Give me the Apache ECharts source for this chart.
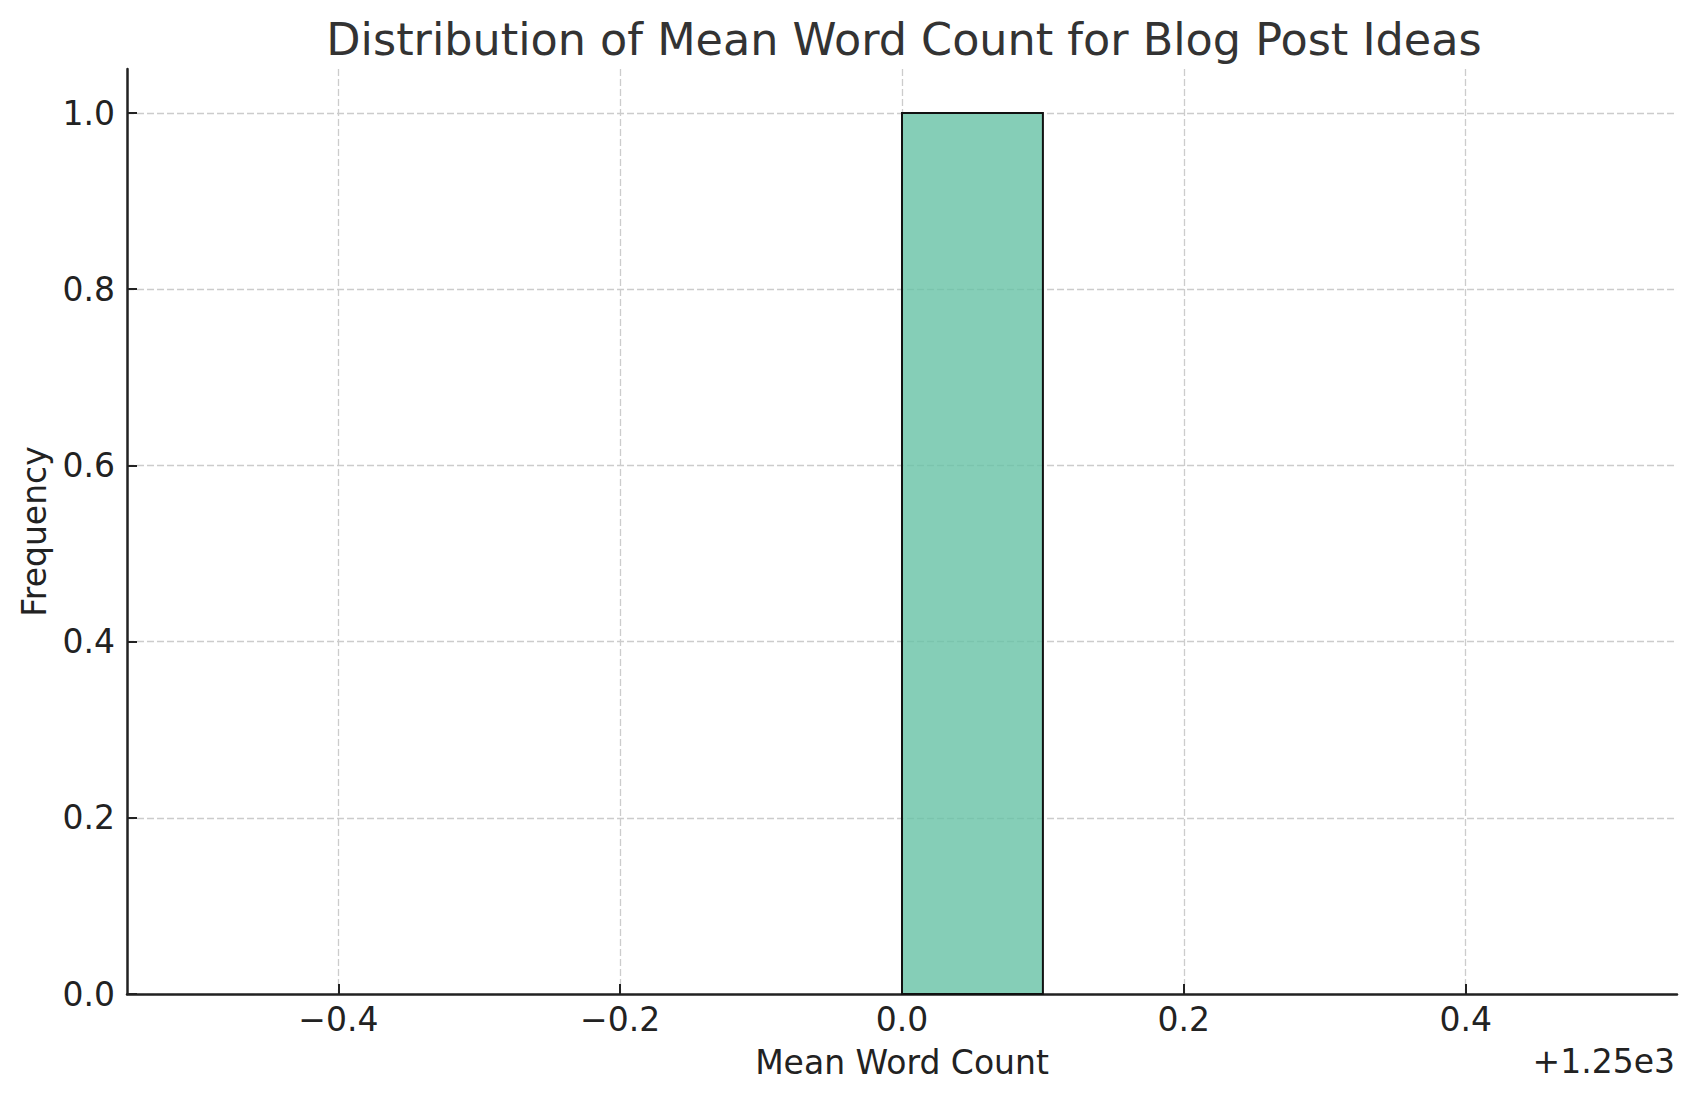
<!DOCTYPE html>
<html>
<head>
<meta charset="utf-8">
<script src="https://cdn.jsdelivr.net/npm/echarts@6/dist/echarts.min.js"></script>
<style>
html,body{margin:0;padding:0;background:#fff;}
#chart{width:1697px;height:1101px;}
</style>
</head>
<body>
<div id="chart"></div>
<script>
// ---- data ----
const offset = 1250;                       // axis offset shown as "+1.25e3"
const binStarts = [1250.0];                // histogram bin left edges
const binEnds = [1250.1];                  // histogram bin right edges
const counts = [1];                        // frequency per bin
const xTickValues = [1249.6, 1249.8, 1250.0, 1250.2, 1250.4];
const yTickValues = [0, 0.2, 0.4, 0.6, 0.8, 1.0];
const xRange = [1249.45, 1250.55];
const yRange = [0, 1.05];

const FONT = 'DejaVu Sans';
const chart = echarts.init(document.getElementById('chart'), null, {renderer: 'svg'});

const gridLine = {show: true, lineStyle: {color: '#cccccc', width: 1.3, type: [7, 3]}};

const option = {
  backgroundColor: '#ffffff',
  animation: false,
  title: {
    text: 'Distribution of Mean Word Count for Blog Post Ideas',
    left: 899, top: 12, textAlign: 'center',
    textStyle: {fontFamily: FONT, fontSize: 44.5, fontWeight: 'normal', color: '#333333'}
  },
  grid: {left: 127, right: 20, top: 69, bottom: 107, containLabel: false},
  xAxis: {
    type: 'value', min: xRange[0], max: xRange[1],
    name: 'Mean Word Count', nameLocation: 'middle', nameGap: 52,
    nameTextStyle: {fontFamily: FONT, fontSize: 33, color: '#222222'},
    axisLine: {show: true, onZero: false, lineStyle: {color: '#222222', width: 2.5}},
    axisTick: {show: true, inside: true, length: 10, customValues: xTickValues, lineStyle: {color: '#222222', width: 2}},
    axisLabel: {
      customValues: xTickValues, margin: 9,
      fontFamily: FONT, fontSize: 33, color: '#222222',
      formatter: v => (v - offset).toFixed(1).replace('-', '\u2212')
    },
    splitLine: gridLine
  },
  yAxis: {
    type: 'value', min: yRange[0], max: yRange[1],
    name: 'Frequency', nameLocation: 'middle', nameGap: 76, nameRotate: 90,
    nameTextStyle: {fontFamily: FONT, fontSize: 33, color: '#222222'},
    axisLine: {show: true, lineStyle: {color: '#222222', width: 2.5}},
    axisTick: {show: true, inside: true, length: 10, customValues: yTickValues, lineStyle: {color: '#222222', width: 2}},
    axisLabel: {
      customValues: yTickValues, margin: 12,
      fontFamily: FONT, fontSize: 33, color: '#222222',
      formatter: v => v.toFixed(1)
    },
    splitLine: gridLine
  },
  graphic: [{
    type: 'text', right: 22, top: 1045,
    style: {text: '+1.25e3', font: '33px "DejaVu Sans"', fill: '#222222'}
  }],
  series: [{
    type: 'custom',
    data: binStarts.map((s, i) => [s, binEnds[i], counts[i]]),
    encode: {x: [0, 1], y: 2},
    renderItem: function (params, api) {
      const p0 = api.coord([api.value(0), api.value(2)]);
      const p1 = api.coord([api.value(1), 0]);
      return {
        type: 'rect',
        shape: {x: p0[0], y: p0[1], width: p1[0] - p0[0], height: p1[1] - p0[1]},
        style: {fill: 'rgba(102,194,165,0.8)', stroke: '#111111', lineWidth: 2}
      };
    }
  }]
};
chart.setOption(option);
</script>
</body>
</html>
